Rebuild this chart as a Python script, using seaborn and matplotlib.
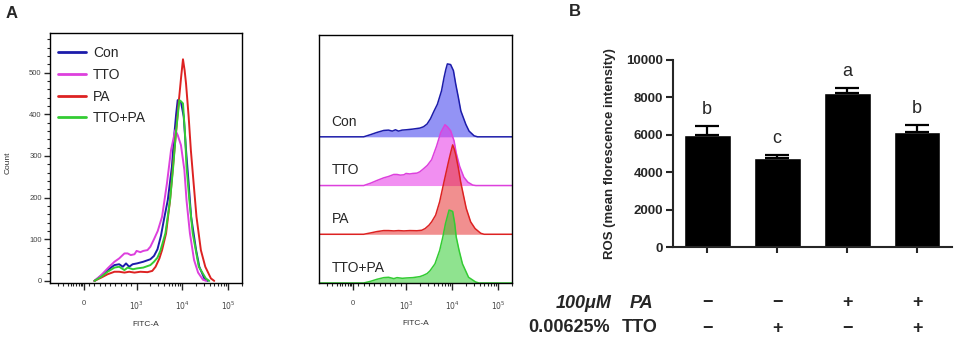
import numpy as np
import pandas as pd
import matplotlib
matplotlib.use('Agg')
import matplotlib.pyplot as plt
from matplotlib.ticker import FixedLocator, MultipleLocator, NullFormatter
from matplotlib.transforms import blended_transform_factory
import seaborn as sns

sns.set_style('ticks')
plt.rcParams['font.family'] = ['Liberation Sans', 'DejaVu Sans']

# ---- data ----
samples = ['Con', 'TTO', 'PA', 'TTO+PA']

con_fitc = [200, 330, 450, 580, 670, 740, 800, 860, 925, 1020, 1400, 2000, 2400, 2860, 3400, 4000,
            4800, 5900, 6700, 7300, 7900, 8600, 9300, 10700, 12000, 13700, 15500, 19900, 23400, 30100, 35800]
con_count = [0, 13, 26, 38, 40, 34, 42, 34, 40, 42, 46, 52, 60, 76, 108, 150,
             194, 274, 354, 400, 434, 432, 430, 394, 314, 234, 154, 74, 34, 6, 0]

tto_fitc = [200, 330, 450, 580, 670, 770, 830, 890, 960, 1000, 1210, 1400, 1730, 2000, 2400, 2900,
            3600, 4600, 5650, 7000, 7900, 9300, 11050, 12300, 14600, 18000, 22000, 28000, 33000]
tto_count = [0, 14, 30, 46, 54, 66, 66, 62, 64, 72, 69, 72, 74, 82, 100, 120,
             154, 234, 314, 362, 350, 326, 266, 194, 114, 50, 20, 3, 0]

pa_fitc = [200, 330, 450, 580, 670, 770, 860, 960, 1210, 1730, 2200, 2600, 3150, 3600, 4400, 5380,
           6700, 8400, 9400, 10300, 11200, 12000, 13700, 15300, 17600, 20300, 25300, 31600, 41900, 49600]
pa_count = [0, 8, 16, 22, 22, 20, 22, 20, 22, 21, 24, 34, 54, 74, 114, 194,
            314, 434, 490, 532, 505, 474, 394, 314, 234, 154, 74, 34, 6, 0]

combo_fitc = [200, 330, 450, 580, 670, 770, 830, 930, 1020, 1400, 2000, 2400, 2860, 3300, 4250, 5380,
              6300, 7200, 8600, 9500, 10300, 11400, 12300, 14200, 16800, 22800, 32500, 38600]
combo_count = [0, 10, 22, 32, 34, 26, 32, 28, 30, 32, 38, 46, 56, 72, 114, 194,
               274, 354, 434, 430, 426, 354, 274, 194, 114, 34, 6, 0]

# panel B
groups = ['Con', 'TTO', 'PA', 'TTO+PA']
ros_mean = [6000, 4780, 8250, 6150]
ros_sd = [450, 140, 230, 380]
letters = ['b', 'c', 'a', 'b']
pa_signs = ['\u2212', '\u2212', '+', '+']
tto_signs = ['\u2212', '+', '\u2212', '+']

line_colors = ['#1c1caa', '#dd40dd', '#dd2222', '#33cc33']
fill_colors = ['#3a3aee', '#e633e6', '#e63333', '#33cc33']

rows = []
for name, xs, ys in zip(samples, [con_fitc, tto_fitc, pa_fitc, combo_fitc],
                        [con_count, tto_count, pa_count, combo_count]):
    for x, y in zip(xs, ys):
        rows.append({'sample': name, 'FITC': x, 'Count': y})
df = pd.DataFrame(rows)

W, H = 957, 341
fig = plt.figure(figsize=(W / 100, H / 100), dpi=100)


def flow_axis(ax):
    ax.set_xscale('symlog', linthresh=1000, linscale=1.035)
    ax.set_xlim(-643, 2.0e5)
    ax.xaxis.set_major_locator(FixedLocator([0, 1e3, 1e4, 1e5]))
    ax.set_xticklabels(['0', '$10^3$', '$10^4$', '$10^5$'])
    minor = [-500, -400, -300, -250, -200, -150, -100, -60, -30] + list(range(100, 1000, 100)) \
        + [k * 1e3 for k in range(2, 10)] + [k * 1e4 for k in range(2, 10)] + [2e5]
    ax.xaxis.set_minor_locator(FixedLocator(minor))
    ax.xaxis.set_minor_formatter(NullFormatter())
    ax.tick_params(axis='x', which='major', length=5, width=1, labelsize=5.5, pad=7, labelcolor='#444444')
    ax.tick_params(axis='x', which='minor', length=2.5, width=0.8)
    for s in ax.spines.values():
        s.set_linewidth(1)
        s.set_color('black')
    ax.set_xlabel('FITC-A', fontsize=6, color='#333333')
    ax.xaxis.set_label_coords(0.5, -0.15)


# ---- panel A, overlay ----
ax1 = fig.add_axes([50 / W, 58 / H, 192 / W, 250 / H])
sns.lineplot(data=df, x='FITC', y='Count', hue='sample', hue_order=samples, palette=line_colors,
             estimator=None, sort=True, linewidth=1.4, ax=ax1)
flow_axis(ax1)
ax1.set_ylim(-5, 595)
ax1.yaxis.set_major_locator(MultipleLocator(100))
ax1.yaxis.set_minor_locator(MultipleLocator(20))
ax1.tick_params(axis='y', which='major', length=4, width=1, labelsize=5.5, pad=2, labelcolor='#444444')
ax1.tick_params(axis='y', which='minor', length=2, width=0.8)
ax1.set_ylabel('Count', fontsize=6, color='#333333')
ax1.yaxis.set_label_coords(-0.2, 0.48)
handles, labels = ax1.get_legend_handles_labels()
ax1.legend(handles, labels, loc='upper left', bbox_to_anchor=(0.0, 0.98), frameon=False, fontsize=10,
           handlelength=2.0, handletextpad=0.5, labelspacing=0.55, borderaxespad=0.2)
for h in ax1.get_legend().get_lines():
    h.set_linewidth(2)

# ---- panel A, offset histograms ----
ax2 = fig.add_axes([319 / W, 58 / H, 193 / W, 248 / H])
offsets = [870, 580, 290, 0]
lab_tr = blended_transform_factory(ax2.transAxes, ax2.transData)
for name, lc, fc, off in zip(samples, line_colors, fill_colors, offsets):
    sub = df[df['sample'] == name].sort_values('FITC')
    # baseline runs across the whole panel
    xs = np.concatenate([[-1000], sub['FITC'].values, [300000]])
    ys = np.concatenate([[0], sub['Count'].values, [0]]) + off
    ax2.fill_between(xs, off, ys, color=fc, alpha=0.55, lw=0)
    sns.lineplot(x=xs, y=ys, color=lc, linewidth=1.1, estimator=None, sort=True, ax=ax2)
    ax2.text(0.066, off + 90, name, transform=lab_tr, fontsize=10, ha='left', va='center')
flow_axis(ax2)
ax2.set_ylim(0, 1476)
ax2.set_yticks([])
ax2.set_ylabel('')

# ---- panel B ----
axb = fig.add_axes([673 / W, 94 / H, 279 / W, 187 / H])
sns.barplot(x=groups, y=ros_mean, color='black', saturation=1, width=0.67, errorbar=None, ax=axb)
xpos = np.arange(len(groups))
axb.errorbar(xpos, ros_mean, yerr=[np.zeros(len(groups)), ros_sd], fmt='none', ecolor='black',
             elinewidth=1.6, capsize=8.3, capthick=1.6)
for i, let in enumerate(letters):
    axb.text(i, ros_mean[i] + ros_sd[i] + 650, let, ha='center', va='baseline', fontsize=13)
axb.set_xlim(-0.49, 3.5)
axb.set_ylim(0, 10000)
axb.set_yticks(range(0, 10001, 2000))
axb.set_xticks(xpos)
axb.set_xticklabels([])
sns.despine(ax=axb)
for s in ['left', 'bottom']:
    axb.spines[s].set_linewidth(1.5)
axb.tick_params(axis='y', length=5, width=1.5, labelsize=9.5, pad=2)
axb.tick_params(axis='x', length=4, width=1.5)
for t in axb.get_yticklabels():
    t.set_fontweight('bold')
axb.set_ylabel('ROS (mean florescence intensity)', fontsize=9.5, fontweight='bold')
axb.yaxis.set_label_coords(-0.205, 0.5)

tr = blended_transform_factory(axb.transData, fig.transFigure)
y1, y2 = 1 - 303 / H, 1 - 328 / H
for i in range(len(groups)):
    axb.text(i, y1, pa_signs[i], transform=tr, ha='center', va='center', fontsize=13, fontweight='bold')
    axb.text(i, y2, tto_signs[i], transform=tr, ha='center', va='center', fontsize=13, fontweight='bold')
fig.text(612 / W, y1, '100\u03bcM', ha='right', va='center', fontsize=13, fontweight='bold', style='italic')
fig.text(630 / W, y1, 'PA', ha='left', va='center', fontsize=13, fontweight='bold', style='italic')
fig.text(610 / W, y2, '0.00625%', ha='right', va='center', fontsize=13, fontweight='bold')
fig.text(622 / W, y2, 'TTO', ha='left', va='center', fontsize=13, fontweight='bold')

fig.text(12 / W, 1 - 13 / H, 'A', ha='center', va='center', fontsize=12, fontweight='bold')
fig.text(575 / W, 1 - 12 / H, 'B', ha='center', va='center', fontsize=12, fontweight='bold')

fig.savefig('out.png', dpi=100)
